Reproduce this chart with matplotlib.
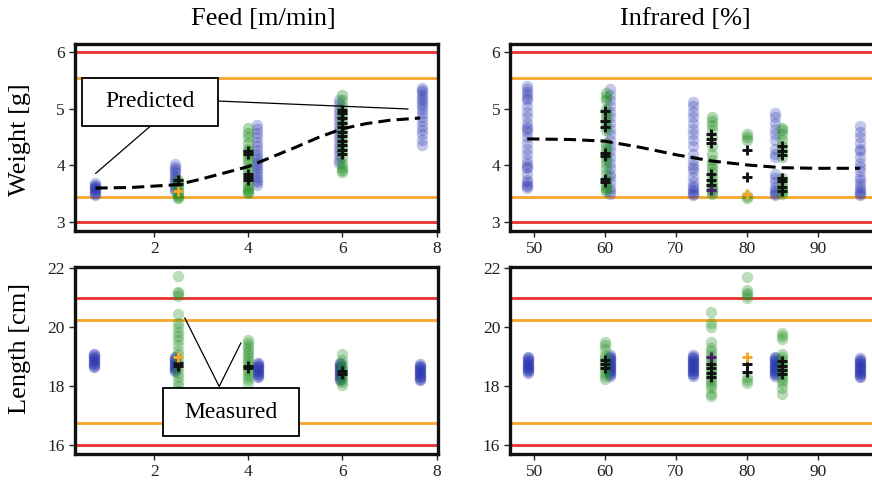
import matplotlib
matplotlib.use("Agg")
import matplotlib.pyplot as plt
from matplotlib.patches import Rectangle

plt.rcParams['font.family'] = ['Liberation Serif', 'DejaVu Serif']

# ---------------- data ----------------
# Weight vs feed
wf_blue_x = [0.75, 2.45, 4.18, 5.92, 7.68]
wf_blue = [
    [3.48, 3.50, 3.52, 3.54, 3.56, 3.58, 3.60, 3.62, 3.64, 3.66, 3.69],
    [3.55, 3.58, 3.62, 3.66, 3.70, 3.74, 3.78, 3.82, 3.86, 3.90, 3.94, 3.98, 4.02],
    [3.65, 3.70, 3.75, 3.80, 3.85, 3.90, 3.95, 4.00, 4.05, 4.10, 4.15, 4.20, 4.28,
     4.35, 4.42, 4.50, 4.58, 4.65, 4.72],
    [4.04, 4.10, 4.18, 4.25, 4.32, 4.40, 4.48, 4.55, 4.62, 4.70, 4.78, 4.85, 4.92,
     5.00, 5.08, 5.16],
    [4.36, 4.45, 4.55, 4.62, 4.70, 4.78, 4.85, 4.92, 5.00, 5.05, 5.10, 5.15, 5.20,
     5.25, 5.30, 5.34, 5.38],
]
wf_green_x = [2.5, 4.0, 6.0]
wf_green = [
    [3.42, 3.45, 3.48, 3.52, 3.56, 3.60, 3.65, 3.70, 3.75],
    [3.51, 3.53, 3.56, 3.60, 3.65, 3.72, 3.80, 3.88, 3.95, 4.05, 4.12, 4.18, 4.22,
     4.26, 4.30, 4.40, 4.50, 4.58, 4.66],
    [3.88, 3.92, 3.98, 4.05, 4.15, 4.25, 4.35, 4.45, 4.55, 4.65, 4.75, 4.85, 4.95,
     5.05, 5.15, 5.25],
]
wf_black_x = [2.5, 4.0, 6.0]
wf_black = [
    [3.68, 3.74],
    [3.75, 3.80, 3.85, 4.20, 4.25],
    [4.20, 4.28, 4.36, 4.44, 4.52, 4.60, 4.68, 4.76, 4.84, 4.92, 4.98],
]
wf_orange_x = [2.5]
wf_orange = [[3.54]]
wf_pred_x = [0.75, 1.5, 2.5, 3.0, 3.5, 4.0, 4.5, 5.0, 5.5, 6.0, 6.5, 7.0, 7.65]
wf_pred = [3.60, 3.61, 3.66, 3.76, 3.87, 3.98, 4.15, 4.32, 4.50, 4.65, 4.74, 4.80, 4.84]

# Weight vs infrared
wi_blue_x = [48.9, 60.7, 72.4, 84.0, 96.0]
wi_blue = [
    [3.60, 3.63, 3.66, 3.70, 3.75, 3.85, 3.95, 3.98, 4.02, 4.10, 4.20, 4.30, 4.40,
     4.50, 4.60, 4.65, 4.68, 4.75, 4.85, 4.95, 5.05, 5.15, 5.20, 5.25, 5.30, 5.35, 5.40],
    [3.50, 3.55, 3.60, 3.70, 3.80, 3.85, 3.95, 4.05, 4.15, 4.25, 4.35, 4.45, 4.55,
     4.65, 4.75, 4.85, 4.95, 5.05, 5.15, 5.25, 5.35],
    [3.47, 3.50, 3.53, 3.56, 3.60, 3.64, 3.70, 3.80, 3.90, 3.95, 4.00, 4.10, 4.20,
     4.35, 4.45, 4.55, 4.65, 4.75, 4.85, 4.95, 5.05, 5.12],
    [3.47, 3.50, 3.53, 3.57, 3.62, 3.70, 3.78, 3.85, 4.15, 4.20, 4.30, 4.45, 4.55,
     4.65, 4.75, 4.85, 4.93],
    [3.47, 3.50, 3.53, 3.57, 3.62, 3.68, 3.75, 3.80, 3.90, 3.98, 4.05, 4.15, 4.25,
     4.30, 4.40, 4.50, 4.60, 4.70],
]
wi_green_x = [60.1, 75.05, 80.0, 84.95]
wi_green = [
    [3.55, 3.58, 3.62, 3.68, 3.75, 3.85, 3.95, 4.05, 4.12, 4.18, 4.25, 4.32, 4.40,
     4.62, 4.70, 4.78, 4.85, 4.92, 5.00, 5.15, 5.22, 5.28],
    [3.50, 3.53, 3.56, 3.60, 3.65, 3.72, 3.80, 3.88, 3.95, 4.02, 4.10, 4.20, 4.35,
     4.50, 4.62, 4.72, 4.78, 4.85],
    [3.42, 3.46, 4.45, 4.50, 4.56],
    [3.50, 3.53, 3.57, 3.62, 3.70, 3.78, 4.15, 4.25, 4.35, 4.45, 4.55, 4.62, 4.67],
]
wi_black_x = [60.0, 75.0, 80.0, 85.0]
wi_black = [
    [3.70, 3.76, 4.16, 4.22, 4.68, 4.78, 4.96],
    [3.65, 3.75, 3.85, 4.40, 4.47, 4.55],
    [3.79, 4.28],
    [3.55, 3.62, 3.72, 3.78, 4.18, 4.26, 4.34],
]
wi_purple_x = [75.0]
wi_purple = [[3.57]]
wi_orange_x = [80.0]
wi_orange = [[3.49]]
wi_pred_x = [49, 55, 60, 65, 70, 75, 80, 85, 90, 96]
wi_pred = [4.47, 4.46, 4.43, 4.32, 4.19, 4.08, 4.01, 3.96, 3.95, 3.95]

# Length vs feed
lf_blue_x = [0.72, 2.45, 4.2, 5.95, 7.65]
lf_blue = [
    [18.65, 18.70, 18.75, 18.80, 18.85, 18.90, 18.95, 19.00, 19.05, 19.10],
    [18.50, 18.55, 18.60, 18.65, 18.70, 18.75, 18.80, 18.85, 18.90, 18.95, 19.00],
    [18.30, 18.35, 18.40, 18.45, 18.50, 18.55, 18.60, 18.65, 18.70, 18.75, 18.80],
    [18.20, 18.25, 18.30, 18.35, 18.40, 18.45, 18.50, 18.55, 18.60, 18.65, 18.70,
     18.75, 18.80],
    [18.20, 18.25, 18.30, 18.35, 18.40, 18.45, 18.50, 18.55, 18.60, 18.65, 18.70, 18.75],
]
lf_green_x = [2.5, 4.0, 6.0]
lf_green = [
    [17.65, 17.85, 18.00, 18.15, 18.30, 18.45, 18.60, 18.75, 18.90, 19.05, 19.20,
     19.40, 19.55, 19.70, 19.85, 20.00, 20.15, 20.45, 21.05, 21.15, 21.20, 21.72],
    [17.78, 18.10, 18.25, 18.35, 18.45, 18.55, 18.65, 18.75, 18.85, 18.95, 19.05,
     19.15, 19.25, 19.35, 19.45, 19.55],
    [18.05, 18.15, 18.25, 18.35, 18.45, 18.55, 18.65, 18.75, 18.90, 19.10],
]
lf_black_x = [2.5, 4.0, 6.0]
lf_black = [[18.70, 18.80], [18.62, 18.70], [18.40, 18.50]]
lf_orange_x = [2.5]
lf_orange = [[18.98]]

# Length vs infrared
li_blue_x = [49.1, 60.7, 72.4, 84.0, 96.0]
li_blue = [
    [18.45, 18.50, 18.55, 18.60, 18.65, 18.70, 18.75, 18.80, 18.85, 18.90, 18.95, 19.00],
    [18.35, 18.40, 18.45, 18.50, 18.55, 18.60, 18.65, 18.70, 18.75, 18.80, 18.85,
     18.90, 18.95, 19.00, 19.05],
    [18.35, 18.40, 18.45, 18.50, 18.55, 18.60, 18.65, 18.70, 18.75, 18.80, 18.85,
     18.90, 18.95, 19.00, 19.05],
    [18.35, 18.40, 18.45, 18.50, 18.55, 18.60, 18.65, 18.70, 18.75, 18.80, 18.85,
     18.90, 18.95, 19.00],
    [18.30, 18.35, 18.40, 18.45, 18.50, 18.55, 18.60, 18.65, 18.70, 18.75, 18.80,
     18.85, 18.90, 18.95],
]
li_green_x = [60.0, 75.0, 80.0, 85.0]
li_green = [
    [18.25, 18.35, 18.45, 18.55, 18.65, 18.75, 18.85, 18.95, 19.05, 19.25, 19.40, 19.50],
    [17.65, 17.75, 17.95, 18.05, 18.15, 18.25, 18.35, 18.45, 18.55, 18.65, 18.75,
     18.85, 18.95, 19.05, 19.20, 19.30, 19.50, 20.00, 20.15, 20.50],
    [18.10, 18.20, 18.30, 21.00, 21.10, 21.15, 21.25, 21.70],
    [17.75, 17.95, 18.10, 18.20, 18.30, 18.40, 18.50, 18.60, 18.70, 18.80, 18.90,
     19.00, 19.10, 19.60, 19.70, 19.80],
]
li_black_x = [60.0, 75.0, 80.0, 85.0]
li_black = [
    [18.60, 18.75, 18.90],
    [18.30, 18.45, 18.60, 18.75],
    [18.48, 18.76],
    [18.40, 18.55, 18.70, 18.85],
]
li_purple_x = [75.0]
li_purple = [[19.00]]
li_orange_x = [80.0]
li_orange = [[18.98]]

# specification limits
weight_limits_outer = [3.0, 6.0]
weight_limits_inner = [3.45, 5.55]
length_limits_outer = [16.0, 21.0]
length_limits_inner = [16.75, 20.25]

# ---------------- styling ----------------
BLUE = '#2a36b0'
GREEN = '#1f8f1f'
RED = '#e8322c'
ORANGE = '#f7a62a'

W, H = 872, 482
fig = plt.figure(figsize=(W / 100, H / 100), dpi=100)


def add_axes(left, top, right, bottom):
    return fig.add_axes([left / W, 1 - bottom / H, (right - left) / W, (bottom - top) / H])


ax_wf = add_axes(74.7, 44, 438, 231)
ax_wi = add_axes(510, 44, 875, 231)
ax_lf = add_axes(74.7, 266.7, 438, 454)
ax_li = add_axes(510, 266.7, 875, 454)


def draw_columns(ax, xs, cols, color, alpha, size=68, z=2):
    for x, vals in zip(xs, cols):
        ax.scatter([x] * len(vals), vals, s=size, color=color, alpha=alpha,
                   linewidths=0, zorder=z)


def draw_plus(ax, xs, cols, color):
    for x, vals in zip(xs, cols):
        ax.plot([x] * len(vals), vals, linestyle='none', marker='+', markersize=7.5,
                markeredgewidth=2.1, color=color, zorder=5)


def style(ax, xlim, ylim, xticks, yticks, outer, inner):
    ax.set_xlim(*xlim)
    ax.set_ylim(*ylim)
    ax.set_xticks(xticks)
    ax.set_yticks(yticks)
    for v in outer:
        ax.axhline(v, color=RED, lw=2.0, zorder=1)
    for v in inner:
        ax.axhline(v, color=ORANGE, lw=2.0, zorder=1)
    for sp in ax.spines.values():
        sp.set_linewidth(2.4)
        sp.set_color('#111111')
    ax.tick_params(direction='out', length=4, width=1, labelsize=12.5, pad=3,
                   colors='#222222')


# Weight vs feed
style(ax_wf, (0.31, 8.03), (2.84, 6.15), [2, 4, 6, 8], [3, 4, 5, 6],
      weight_limits_outer, weight_limits_inner)
draw_columns(ax_wf, wf_blue_x, wf_blue, BLUE, 0.28)
draw_columns(ax_wf, wf_green_x, wf_green, GREEN, 0.35)
draw_plus(ax_wf, wf_black_x, wf_black, '#111111')
draw_plus(ax_wf, wf_orange_x, wf_orange, ORANGE)
ax_wf.plot(wf_pred_x, wf_pred, color='black', lw=2.2, dashes=(4, 2), zorder=6)

# Weight vs infrared
style(ax_wi, (46.57, 98.1), (2.84, 6.15), [50, 60, 70, 80, 90], [3, 4, 5, 6],
      weight_limits_outer, weight_limits_inner)
draw_columns(ax_wi, wi_blue_x, wi_blue, BLUE, 0.28)
draw_columns(ax_wi, wi_green_x, wi_green, GREEN, 0.35)
draw_plus(ax_wi, wi_black_x, wi_black, '#111111')
draw_plus(ax_wi, wi_purple_x, wi_purple, '#4b1a6e')
draw_plus(ax_wi, wi_orange_x, wi_orange, ORANGE)
ax_wi.plot(wi_pred_x, wi_pred, color='black', lw=2.2, dashes=(4, 2), zorder=6)

# Length vs feed
style(ax_lf, (0.31, 8.03), (15.7, 22.05), [2, 4, 6, 8], [16, 18, 20, 22],
      length_limits_outer, length_limits_inner)
draw_columns(ax_lf, lf_blue_x, lf_blue, BLUE, 0.35)
draw_columns(ax_lf, lf_green_x, lf_green, GREEN, 0.3)
draw_plus(ax_lf, lf_black_x, lf_black, '#111111')
draw_plus(ax_lf, lf_orange_x, lf_orange, ORANGE)

# Length vs infrared
style(ax_li, (46.57, 98.1), (15.7, 22.05), [50, 60, 70, 80, 90], [16, 18, 20, 22],
      length_limits_outer, length_limits_inner)
draw_columns(ax_li, li_blue_x, li_blue, BLUE, 0.35)
draw_columns(ax_li, li_green_x, li_green, GREEN, 0.3)
draw_plus(ax_li, li_black_x, li_black, '#111111')
draw_plus(ax_li, li_purple_x, li_purple, '#4b1a6e')
draw_plus(ax_li, li_orange_x, li_orange, ORANGE)

# Callout: predicted curve
ax_wf.add_patch(Rectangle((0.465, 4.69), 3.36 - 0.465, 5.557 - 4.69, fill=True,
                          facecolor='white', edgecolor='black', lw=1.3, zorder=8))
ax_wf.text((0.465 + 3.36) / 2, (4.69 + 5.557) / 2, 'Predicted', fontsize=17,
           ha='center', va='center', zorder=9)
ax_wf.plot([3.36, 7.39], [5.14, 5.0], color='black', lw=0.9, zorder=7)
ax_wf.plot([1.91, 0.756], [4.69, 3.86], color='black', lw=0.9, zorder=7)

# Callout: measured values
ax_lf.add_patch(Rectangle((2.19, 16.32), 5.08 - 2.19, 17.95 - 16.32, fill=True,
                          facecolor='white', edgecolor='black', lw=1.3, zorder=8))
ax_lf.text((2.19 + 5.08) / 2, 17.1, 'Measured', fontsize=17,
           ha='center', va='center', zorder=9)
ax_lf.plot([2.65, 3.38, 3.84], [20.31, 17.99, 19.46], color='black', lw=0.9, zorder=7)

# Titles and axis labels
fig.text(263 / W, 1 - 19 / H, 'Feed [m/min]', fontsize=19, ha='center', va='center')
fig.text(685 / W, 1 - 19 / H, 'Infrared [%]', fontsize=19, ha='center', va='center')
fig.text(20 / W, 1 - 140 / H, 'Weight [g]', fontsize=19, rotation=90,
         ha='center', va='center')
fig.text(20 / W, 1 - 348 / H, 'Length [cm]', fontsize=19, rotation=90,
         ha='center', va='center')

fig.savefig('out.png', dpi=100, facecolor='white')
